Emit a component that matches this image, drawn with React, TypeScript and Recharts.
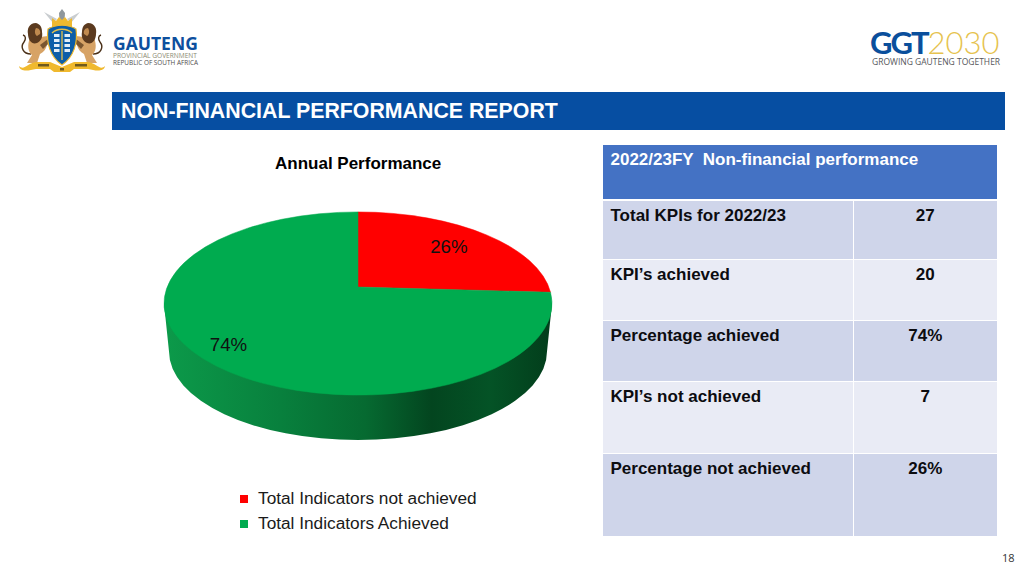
import React from 'react';
import { PieChart, Pie, Cell, Legend } from 'recharts';

const SLICE_NAMES = ['Total Indicators not achieved', 'Total Indicators Achieved'];
const SLICE_VALUES = [7, 20];
const SLICE_COLORS = ['#ff0000', '#00ab4f'];

const TABLE_TITLE = '2022/23FY  Non-financial performance';
const ROW_LABELS = ['Total KPIs for 2022/23', 'KPI’s achieved', 'Percentage achieved', 'KPI’s not achieved', 'Percentage not achieved'];
const ROW_VALUES = ['27', '20', '74%', '7', '26%'];
const ROW_HEIGHTS = [59, 61, 61, 72, 83];

const FONT = '"Liberation Sans", Arial, sans-serif';

// the tilted pie: flat ellipse, with the slices meeting above its centre
const SQUASH = 0.472;
const APEX_LIFT = 16.5;
const DEPTH = 45;
const LABEL_REACH = [125, 178];

const pieData = SLICE_NAMES.map((name, i) => ({ name, value: SLICE_VALUES[i] }));

const rayDir = (deg: number) => {
  const a = (deg * Math.PI) / 180;
  return { x: Math.cos(a), y: -SQUASH * Math.sin(a) };
};

// where a ray leaving the apex meets the rim of the ellipse
const rimPoint = (cx: number, cy: number, rx: number, deg: number) => {
  const ry = rx * SQUASH;
  const d = rayDir(deg);
  const oy = -APEX_LIFT / ry;
  const dx = d.x / rx;
  const dy = d.y / ry;
  const a = dx * dx + dy * dy;
  const b = 2 * oy * dy;
  const c = oy * oy - 1;
  const t = (-b + Math.sqrt(b * b - 4 * a * c)) / (2 * a);
  return { x: cx + t * d.x, y: cy - APEX_LIFT + t * d.y };
};

const TiltedSlice = (props: any) => {
  const { cx, cy, outerRadius, startAngle, endAngle, fill } = props;
  const rx = outerRadius;
  const ry = rx * SQUASH;
  const p1 = rimPoint(cx, cy, rx, startAngle);
  const p2 = rimPoint(cx, cy, rx, endAngle);
  const large = Math.abs(endAngle - startAngle) > 180 ? 1 : 0;
  const hasFront = startAngle > -90 && endAngle < -90;
  const rxLow = rx - 5;
  const ryLow = ry - 3;
  const lowY = cy + DEPTH + 3;
  return (
    <g>
      {hasFront && (
        <>
          <defs>
            <linearGradient id="pieSide" x1="0" y1="0" x2="1" y2="0">
              <stop offset="0%" stopColor="#0c9a4a" />
              <stop offset="30%" stopColor="#08803d" />
              <stop offset="52%" stopColor="#066a31" />
              <stop offset="69%" stopColor="#03451f" />
              <stop offset="84%" stopColor="#045326" />
              <stop offset="100%" stopColor="#023d1b" />
            </linearGradient>
          </defs>
          <path
            d={`M${cx - rx},${cy} L${cx - rxLow},${lowY} A${rxLow},${ryLow} 0 0 0 ${cx + rxLow},${lowY} L${cx + rx},${cy} Z`}
            fill="url(#pieSide)"
          />
        </>
      )}
      <path
        d={`M${cx},${cy - APEX_LIFT} L${p1.x},${p1.y} A${rx},${ry} 0 ${large} 1 ${p2.x},${p2.y} Z`}
        fill={fill}
        stroke={fill}
        strokeWidth={0.5}
      />
    </g>
  );
};

const sliceLabel = (props: any) => {
  const { cx, cy, midAngle, percent, index } = props;
  const d = rayDir(midAngle);
  const reach = LABEL_REACH[index];
  return (
    <text
      x={cx + reach * d.x}
      y={cy - APEX_LIFT + reach * d.y}
      textAnchor="middle"
      dominantBaseline="central"
      fontFamily={FONT}
      fontSize={18.7}
      fill="#111"
    >
      {`${(percent * 100).toFixed(0)}%`}
    </text>
  );
};

const LegendRows = () => (
  <div style={{ fontFamily: FONT, fontSize: 17.25, color: '#1a1a1a' }}>
    {SLICE_NAMES.map((name, i) => (
      <div key={name} style={{ display: 'flex', alignItems: 'center', height: 25 }}>
        <span style={{ width: 8, height: 8, background: SLICE_COLORS[i], marginRight: 10 }} />
        <span style={{ whiteSpace: 'nowrap' }}>{name}</span>
      </div>
    ))}
  </div>
);

const CrestLion = () => (
  <g>
    <path d="M31,54 C23,54 20,47 24,42 C26,39 26,36 23,35" fill="none" stroke="#4a3018" strokeWidth={1.4} />
    <path d="M30,38 C27,45 28,52 32,55 L27,63 L37,63 L40,54 C44,52 46,49 47,45 L50,40 L48,36 L40,37 Z" fill="#d7a366" />
    <path d="M36,23 C29,23 27,29 28,34 C28,40 32,45 37,43 C41,41 43,37 42,32 C42,27 40,24 36,23 Z" fill="#5b3a1f" />
    <path d="M36,28 C39,28 41,31 40,34 L37,36 C35,35 34,31 36,28 Z" fill="#c08a4f" />
    <path d="M40,45 L52,36 L53,39 L43,49 Z" fill="#7a5630" />
  </g>
);

const GautengCrest = () => (
  <svg width={110} height={76} viewBox="0 0 110 76" style={{ position: 'absolute', left: 0, top: 0 }}>
    <path d="M62,9 L65,13 L64.5,20 L59.5,20 L59,13 Z" fill="#8f979c" />
    <path d="M44,12 L57,19 L53,23 Z M80,12 L67,19 L71,23 Z" fill="#c9cdd0" />
    <path d="M52,27 L52,18 L56,21 L59,17 L62,20 L65,17 L68,21 L72,18 L72,27 Z" fill="#efb92f" />
    <CrestLion />
    <g transform="translate(124,0) scale(-1,1)">
      <CrestLion />
    </g>
    {/* shield */}
    <path d="M48,29 C56,24 68,24 76,29 C78,42 74,57 62,65 C50,57 46,42 48,29 Z" fill="#0d5ea8" stroke="#efb92f" strokeWidth={1.2} />
    <path d="M62,31 L62,60 M52,33 C57,28 67,28 72,33" stroke="#e6c04a" strokeWidth={1.3} fill="none" />
    {[34, 39, 44, 49].map(y => (
      <g key={y} fill="#e3eef7">
        <rect x={54} y={y} width={5.5} height={3} />
        <rect x={64.5} y={y} width={5.5} height={3} />
      </g>
    ))}
    {/* motto ribbon */}
    <path d="M19,66 C24,71 28,63 36,62 L50,62 L62,67 L74,62 L88,62 C96,63 100,71 105,66 C104,72 96,71 88,69 L74,69 L70,72 L54,72 L50,69 L36,69 C28,71 20,72 19,66 Z" fill="#f0b92e" />
    <rect x={38} y={64} width={11} height={2.5} fill="#6f5a1e" />
    <rect x={75} y={64} width={12} height={2.5} fill="#6f5a1e" />
    <rect x={60} y={68} width={4} height={2.5} fill="#6f5a1e" />
  </svg>
);

const box = (left: number, top: number, extra: React.CSSProperties = {}): React.CSSProperties => ({
  position: 'absolute',
  left,
  top,
  whiteSpace: 'nowrap',
  ...extra,
});

const PerformanceTable = () => (
  <table
    style={{
      position: 'absolute', left: 603, top: 145, width: 394, borderCollapse: 'collapse',
      tableLayout: 'fixed', fontFamily: FONT, fontSize: 17, fontWeight: 700, color: '#0c0c10',
    }}
  >
    <colgroup>
      <col style={{ width: 250 }} />
      <col style={{ width: 144 }} />
    </colgroup>
    <thead>
      <tr style={{ height: 55 }}>
        <th colSpan={2} style={{ background: '#4472c4', color: '#fff', textAlign: 'left', verticalAlign: 'top', padding: '5px 7.5px', fontSize: 17, whiteSpace: 'pre' }}>
          {TABLE_TITLE}
        </th>
      </tr>
    </thead>
    <tbody>
      {ROW_LABELS.map((label, i) => {
        const rowStyle: React.CSSProperties = {
          background: i % 2 ? '#e9ebf5' : '#cfd5ea',
          borderTop: `${i === 0 ? 2 : 1}px solid #fff`,
          verticalAlign: 'top',
          padding: '5px 7.5px',
        };
        return (
          <tr key={label} style={{ height: ROW_HEIGHTS[i] }}>
            <td style={{ ...rowStyle, borderRight: '1px solid #fff' }}>{label}</td>
            <td style={{ ...rowStyle, textAlign: 'center' }}>{ROW_VALUES[i]}</td>
          </tr>
        );
      })}
    </tbody>
  </table>
);

export default function App() {
  return (
    <div style={{ position: 'absolute', left: 0, top: 0, width: 1024, height: 576, background: '#fff', overflow: 'hidden' }}>
      <GautengCrest />
      <div style={box(113, 35, { fontFamily: '"Open Sans", sans-serif', fontWeight: 700, fontSize: 17.5, color: '#0d4f9e', lineHeight: '16px' })}>GAUTENG</div>
      <div style={box(113, 51.5, { fontFamily: '"Open Sans", sans-serif', fontSize: 6.6, color: '#8a8a72', lineHeight: '7px' })}>PROVINCIAL GOVERNMENT</div>
      <div style={box(113, 58.5, { fontFamily: '"Open Sans", sans-serif', fontSize: 6.4, color: '#4d4d4d', lineHeight: '7px' })}>REPUBLIC OF SOUTH AFRICA</div>

      <div style={box(870, 29, { fontFamily: 'Lato, sans-serif', fontSize: 31, lineHeight: '26px' })}>
        <span style={{ fontWeight: 700, color: '#0a4f9c', letterSpacing: -2 }}>GGT</span>
        <span style={{ fontWeight: 300, color: '#e6c34f' }}>2030</span>
      </div>
      <div style={box(872, 56, { fontFamily: '"Open Sans", sans-serif', fontSize: 8.5, color: '#55565a', lineHeight: '12px' })}>GROWING GAUTENG TOGETHER</div>

      <div style={box(112, 92, { width: 893, height: 38, background: '#064ea2' })} />
      <div style={box(121, 98, { fontFamily: FONT, fontWeight: 700, fontSize: 21.33, color: '#fff', lineHeight: '26px' })}>NON-FINANCIAL PERFORMANCE REPORT</div>

      <div style={box(275, 154, { fontFamily: FONT, fontWeight: 700, fontSize: 17, color: '#000', lineHeight: '20px' })}>Annual Performance</div>

      <div style={{ position: 'absolute', left: 120, top: 190 }}>
        <PieChart width={470} height={350}>
          <Pie
            data={pieData}
            dataKey="value"
            nameKey="name"
            cx={233}
            cy={108.5}
            outerRadius={194}
            startAngle={90}
            endAngle={-270}
            stroke="none"
            shape={TiltedSlice}
            label={sliceLabel}
            labelLine={false}
            isAnimationActive={false}
          >
            {pieData.map((d, i) => (
              <Cell key={d.name} fill={SLICE_COLORS[i]} />
            ))}
          </Pie>
          <Legend content={<LegendRows />} wrapperStyle={{ left: 120, top: 296, width: 300, bottom: 'auto' }} />
        </PieChart>
      </div>

      <PerformanceTable />

      <div style={box(1002, 551, { fontFamily: '"Open Sans", sans-serif', fontSize: 11, color: '#333', lineHeight: '14px' })}>18</div>
    </div>
  );
}
